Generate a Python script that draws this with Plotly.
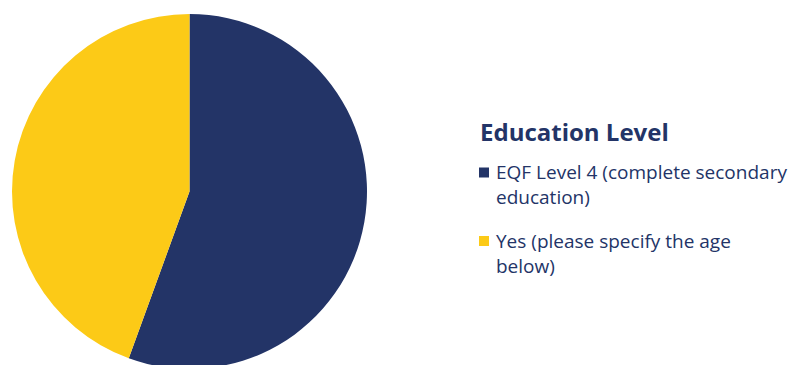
import plotly.graph_objects as go

# Survey responses by education level
labels = [
    "EQF Level 4 (complete secondary<br>education)",
    "Yes (please specify the age<br>below)",
]
counts = [5, 4]
colors = ["#233467", "#FCCA17"]
legend_title = "Education Level"

W, H = 799, 374
NAVY = "#233467"
FONT = "Open Sans"
ITEM_SIZE = 19


def py(px):
    """Convert a pixel row (from the top) to paper y."""
    return 1 - px / H


fig = go.Figure(
    go.Pie(
        labels=labels,
        values=counts,
        sort=False,
        direction="clockwise",
        rotation=0,
        textinfo="none",
        hoverinfo="label+percent",
        marker=dict(colors=colors, line=dict(width=0)),
        domain=dict(
            x=[12 / W, 367 / W],
            y=[py(369), py(14)],
        ),
        showlegend=False,
    )
)

# Hand-laid legend: title, colour swatches and wrapped item labels
annotations = [
    dict(
        text=f"<b>{legend_title}</b>",
        x=478 / W, y=py(131),
        xref="paper", yref="paper",
        xanchor="left", yanchor="middle",
        showarrow=False,
        font=dict(family=FONT, size=24, color=NAVY),
    )
]
shapes = []
item_tops = [172.5, 241.0]          # centre of each item's first text line
line_h = ITEM_SIZE * 1.3            # plotly's multi-line spacing
for label, color, top in zip(labels, colors, item_tops):
    shapes.append(
        dict(
            type="rect", xref="paper", yref="paper",
            x0=479 / W, x1=489 / W,
            y0=py(top + 5), y1=py(top - 5),
            fillcolor=color, line=dict(width=0),
        )
    )
    n_lines = label.count("<br>") + 1
    annotations.append(
        dict(
            text=label,
            x=495 / W, y=py(top + (n_lines - 1) * line_h / 2),
            xref="paper", yref="paper",
            xanchor="left", yanchor="middle",
            align="left", borderpad=0,
            showarrow=False,
            font=dict(family=FONT, size=ITEM_SIZE, color=NAVY),
        )
    )

fig.update_layout(
    width=W,
    height=H,
    margin=dict(l=0, r=0, t=0, b=0),
    paper_bgcolor="white",
    plot_bgcolor="white",
    showlegend=False,
    annotations=annotations,
    shapes=shapes,
)

fig.write_html(
    "out.html",
    post_script="document.body.style.overflow='hidden';document.body.style.margin='0';",
)
